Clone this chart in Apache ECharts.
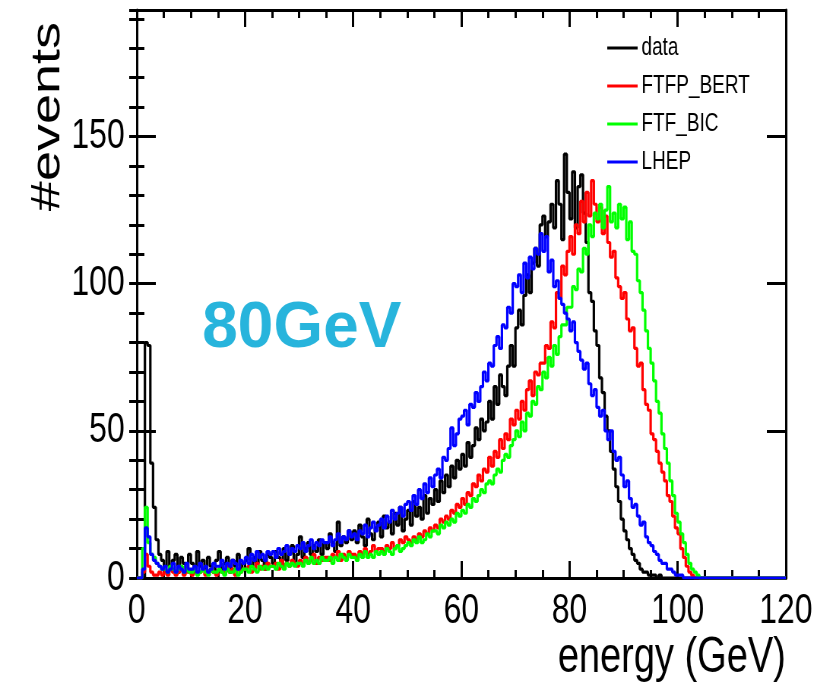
<!DOCTYPE html>
<html>
<head>
<meta charset="utf-8">
<title>80GeV energy spectra</title>
<script src="https://cdn.jsdelivr.net/npm/echarts@6/dist/echarts.min.js"></script>
<style>
  html, body { margin: 0; padding: 0; background: #fff; }
  #wrap { width: 822px; height: 692px; overflow: hidden; position: relative; }
  /* the canvas is drawn wide and squeezed horizontally */
  #chart { width: 1082px; height: 692px; transform: scaleX(0.76); transform-origin: 0 0; }
</style>
</head>
<body>
<div id="wrap"><div id="chart"></div></div>
<script>
// Histogram bin width in GeV; bins start at 0
const binWidth = 0.5;

const seriesNames = ['data', 'FTFP_BERT', 'FTF_BIC', 'LHEP'];
const seriesColors = ['#000000', '#ff0000', '#00ff00', '#0000ff'];
const xTickLabels = ['0', '20', '40', '60', '80', '100', '120'];
const yTickLabels = ['0', '50', '100', '150'];

// events per 0.5 GeV bin, 0 - 120 GeV
const dataCounts = [
  0,0,0,80,79,39,24,13,8,6,
  4,9,3,6,8,2,7,5,3,8,
  5,2,9,4,6,3,7,4,2,6,
  9,3,5,7,2,6,4,8,3,5,
  6,10,4,7,5,9,6,3,8,7,
  5,9,7,4,10,6,8,11,5,8,
  14,7,10,12,8,11,9,13,8,12,
  10,15,12,9,19,11,14,12,16,13,
  16,12,18,14,11,20,15,13,17,19,
  14,21,17,19,15,22,18,24,16,20,
  23,18,26,21,24,20,28,22,27,25,
  30,26,33,29,35,31,38,34,40,37,
  42,38,46,41,45,51,47,54,50,53,
  60,54,65,59,69,65,62,72,79,72,
  85,91,86,96,103,97,107,112,106,120,
  123,116,121,127,119,135,127,115,144,131,
  122,138,119,133,137,124,114,97,94,84,
  79,68,63,55,50,43,37,31,26,20,
  16,13,10,8,6,5,3,2,2,1,
  1,1,0,1,0,0,0,0,0,0,
  0,0,0,0,0,0,0,0,0,0,
  0,0,0,0,0,0,0,0,0,0,
  0,0,0,0,0,0,0,0,0,0,
  0,0,0,0,0,0,0,0,0,0
];

const ftfpBertCounts = [
  0,0,2,8,4,2,1,1,2,1,
  2,1,3,2,1,2,3,1,2,2,
  1,3,2,2,3,1,2,3,2,1,
  3,2,2,4,2,3,1,3,2,3,
  3,4,2,3,5,3,4,3,5,4,
  4,5,3,6,4,5,4,6,5,4,
  6,5,7,5,6,8,5,7,6,7,
  7,6,8,7,9,6,8,7,9,8,
  8,7,9,8,10,8,9,11,9,10,
  10,9,11,10,12,10,11,13,12,14,
  13,12,14,13,15,14,16,15,17,16,
  18,17,20,19,21,20,23,22,25,24,
  27,25,29,28,32,31,35,33,37,36,
  41,38,43,41,47,44,49,47,54,52,
  57,54,60,57,64,67,62,70,69,73,
  73,79,78,87,85,97,95,106,103,111,
  116,110,120,117,128,121,131,123,135,127,
  121,126,117,123,114,109,111,102,99,95,
  97,88,84,85,78,72,73,64,59,57,
  49,47,43,39,36,33,28,26,21,17,
  15,10,7,4,2,1,0,0,0,0,
  0,0,0,0,0,0,0,0,0,0,
  0,0,0,0,0,0,0,0,0,0,
  0,0,0,0,0,0,0,0,0,0
];

const ftfBicCounts = [
  0,0,10,24,12,8,7,5,4,3,
  3,2,4,3,2,3,4,2,3,2,
  2,3,1,2,3,2,1,3,2,2,
  3,2,1,3,2,2,3,1,2,3,
  3,2,4,3,2,4,3,4,3,4,
  4,3,5,4,3,5,4,5,4,5,
  5,4,6,5,7,5,6,5,7,6,
  6,7,5,7,6,8,7,6,8,7,
  7,6,8,7,9,7,8,7,9,8,
  9,8,10,9,8,10,11,9,10,11,
  12,11,13,12,14,12,13,15,14,16,
  16,15,18,17,19,18,20,19,22,21,
  23,22,25,24,27,26,28,30,29,32,
  33,32,35,37,36,40,42,41,45,47,
  50,48,53,50,56,55,60,59,65,64,
  70,68,75,72,79,76,82,86,86,92,
  92,99,98,105,104,112,110,120,116,124,
  122,127,119,125,133,121,124,119,127,122,
  126,115,121,111,110,101,97,91,84,78,
  73,67,60,56,49,44,39,33,28,22,
  19,15,12,8,5,3,2,1,0,0,
  0,0,0,0,0,0,0,0,0,0,
  0,0,0,0,0,0,0,0,0,0,
  0,0,0,0,0,0,0,0,0,0
];

const lhepCounts = [
  0,0,3,17,14,8,6,5,4,3,
  4,2,3,5,2,4,3,2,5,3,
  3,4,2,5,3,4,2,3,5,4,
  4,6,3,5,4,6,5,3,6,5,
  7,5,8,6,9,7,8,6,9,8,
  9,7,10,8,9,11,8,10,9,11,
  10,12,9,11,13,10,12,11,13,12,
  12,14,11,13,15,12,14,13,16,14,
  15,13,16,15,18,14,17,19,16,18,
  20,17,21,19,23,20,22,24,21,25,
  26,23,28,25,30,27,32,29,34,31,
  35,37,34,41,40,44,51,45,49,54,
  55,57,52,59,58,63,60,65,70,67,
  73,72,79,82,78,86,85,92,90,100,
  99,103,97,107,102,109,105,112,110,117,
  111,116,104,108,99,101,95,93,90,88,
  84,87,80,77,74,71,73,66,62,64,
  58,55,57,50,47,50,43,40,41,35,
  31,33,27,24,25,21,18,19,14,12,
  11,9,8,6,5,5,3,3,2,1,
  1,1,0,0,0,0,0,0,0,0,
  0,0,0,0,0,0,0,0,0,0,
  0,0,0,0,0,0,0,0,0,0,
  0,0,0,0,0,0,0,0,0,0
];

const allCounts = [dataCounts, ftfpBertCounts, ftfBicCounts, lhepCounts];

// Turn bin contents into step points at the bin low edges (plus the last upper edge)
function toSteps(counts) {
  const pts = counts.map((c, i) => [i * binWidth, c]);
  pts.push([counts.length * binWidth, counts[counts.length - 1]]);
  return pts;
}

const FONT = "'Liberation Sans', Arial, Helvetica, sans-serif";
const SQUEEZE = 0.76;
const X_MAX = 120;
const Y_MAX = 193;

const black = '#000';
const frameLine = { show: true, onZero: false, lineStyle: { color: black, width: 3 } };

function xAxisDef(position, showLabels) {
  return {
    type: 'value', position: position, min: 0, max: X_MAX, interval: 20,
    axisLine: frameLine,
    axisTick: { show: true, inside: true, length: 17, lineStyle: { color: black, width: 3 } },
    minorTick: { show: true, splitNumber: 4, length: 8, lineStyle: { color: black, width: 3 } },
    splitLine: { show: false }, minorSplitLine: { show: false },
    axisLabel: {
      show: showLabels, fontSize: 42, fontFamily: FONT, color: black, margin: 12,
      formatter: (v) => { const k = xTickLabels.indexOf(String(v)); return k >= 0 ? xTickLabels[k] : ''; }
    }
  };
}

function yAxisDef(position, interval, tickLen, showLine, showLabels) {
  return {
    type: 'value', position: position, min: 0, max: Y_MAX, interval: interval,
    axisLine: showLine ? frameLine : { show: false },
    axisTick: { show: true, inside: true, length: tickLen, lineStyle: { color: black, width: 3 } },
    splitLine: { show: false },
    axisLabel: {
      show: showLabels, fontSize: 42, fontFamily: FONT, color: black, margin: 16,
      showMaxLabel: false,
      formatter: (v) => { const k = yTickLabels.indexOf(String(v)); return k >= 0 ? yTickLabels[k] : ''; }
    }
  };
}

const chart = echarts.init(document.getElementById('chart'), null, { renderer: 'canvas' });

chart.setOption({
  animation: false,
  backgroundColor: '#ffffff',
  grid: { left: 180, right: 48, top: 10, bottom: 114, containLabel: false },
  xAxis: [ xAxisDef('bottom', true), xAxisDef('top', false) ],
  yAxis: [
    yAxisDef('left', 50, 25, true, true),
    yAxisDef('left', 10, 10, false, false),
    yAxisDef('right', 50, 25, true, false),
    yAxisDef('right', 10, 10, false, false)
  ],
  legend: {
    orient: 'vertical', left: 794, top: 28,
    icon: 'rect', itemWidth: 40, itemHeight: 3, itemGap: 8,
    textStyle: { fontSize: 25, fontFamily: FONT, color: black, lineHeight: 30 },
    data: seriesNames
  },
  series: seriesNames.map((name, k) => ({
    name: name, type: 'line', step: 'end', symbol: 'none', showSymbol: false,
    xAxisIndex: 0, yAxisIndex: 0, clip: true,
    color: seriesColors[k],
    lineStyle: { color: seriesColors[k], width: 3.2 },
    data: toSteps(allCounts[k]),
    z: 2 + k
  })),
  graphic: [
    {
      type: 'text', x: 63, y: 22, rotation: Math.PI / 2,
      style: { text: '#events', fontSize: 54, fontFamily: FONT, fill: black,
               align: 'right', verticalAlign: 'middle', textAlign: 'right', textVerticalAlign: 'middle' }
    },
    {
      type: 'text', x: 1034, y: 658,
      style: { text: 'energy (GeV)', fontSize: 50, fontFamily: FONT, fill: black,
               align: 'right', verticalAlign: 'middle', textAlign: 'right', textVerticalAlign: 'middle' }
    },
    {
      type: 'text', x: 266, y: 329, scaleX: 1 / SQUEEZE, z: 100,
      style: { text: '80GeV', fontSize: 64, fontWeight: 'bold', fontFamily: FONT, fill: '#27b4dc',
               align: 'left', verticalAlign: 'middle', textAlign: 'left', textVerticalAlign: 'middle' }
    }
  ]
});
</script>
</body>
</html>
